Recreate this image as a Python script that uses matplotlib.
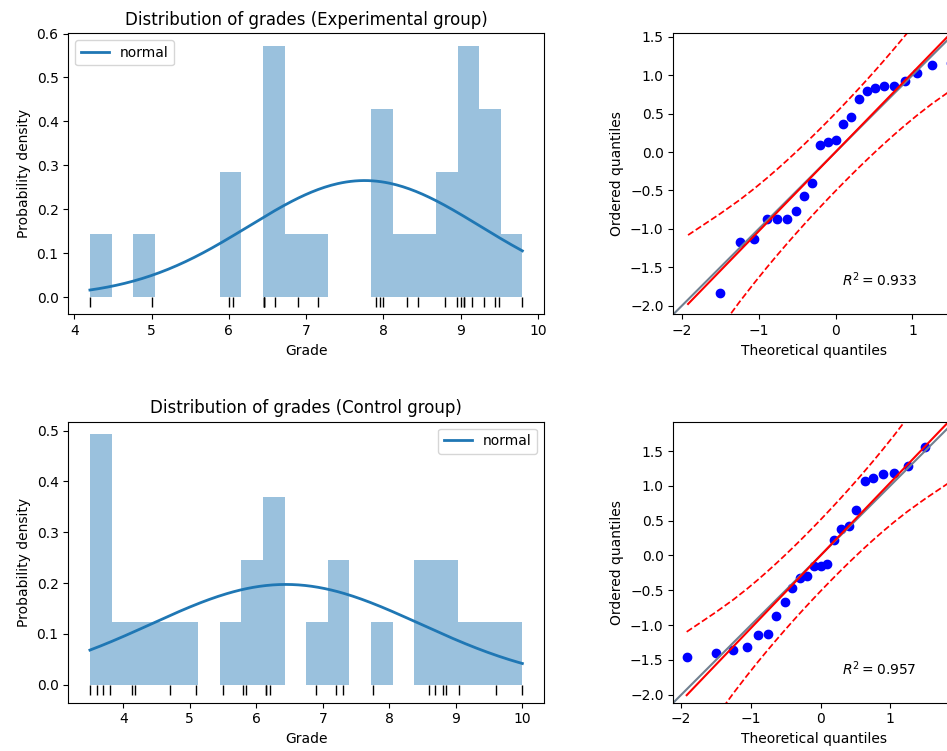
import numpy as np
import matplotlib
matplotlib.use("Agg")
import matplotlib.pyplot as plt
from statistics import NormalDist

exp_grades = [4.2, 5.0, 6.0, 6.05, 6.45, 6.45, 6.45, 6.6, 6.9, 7.15,
              7.9, 7.95, 8.0, 8.3, 8.45, 8.8, 8.95, 9.0, 9.05, 9.05,
              9.15, 9.3, 9.45, 9.5, 9.8]
ctrl_grades = [3.5, 3.6, 3.7, 3.8, 4.13, 4.18, 4.7, 5.1, 5.5, 5.8,
               5.85, 6.15, 6.15, 6.2, 6.9, 7.2, 7.3, 7.75, 8.6, 8.68,
               8.8, 8.85, 9.05, 9.6, 10.0]

W, H = 947, 751


def px_axes(fig, left, top, width, height):
    return fig.add_axes([left / W, (H - top - height) / H, width / W, height / H])


def plot_distribution(ax, grades, title, legend_loc):
    g = np.asarray(grades)
    nd = NormalDist(g.mean(), g.std())
    ax.hist(g, bins=20, density=True, alpha=0.45, color='C0')
    xs = np.linspace(g.min(), g.max(), 200)
    ax.plot(xs, [nd.pdf(v) for v in xs], color='C0', lw=2, label='normal')
    ax.plot(g, np.full(g.size, -0.01), '|k', ms=7)
    ax.set_title(title)
    ax.set_xlabel('Grade')
    ax.set_ylabel('Probability density')
    ax.legend(loc=legend_loc)


def plot_qq(ax, grades):
    g = np.sort(np.asarray(grades))
    n = g.size
    std_norm = NormalDist()
    # Filliben order statistic medians (as scipy.stats.probplot)
    m = (np.arange(1, n + 1) - 0.3175) / (n + 0.365)
    m[-1] = 0.5 ** (1.0 / n)
    m[0] = 1 - m[-1]
    theor = np.array([std_norm.inv_cdf(p) for p in m])
    observed = (g - g.mean()) / g.std()
    slope, intercept = np.polyfit(theor, observed, 1)
    r = np.corrcoef(theor, observed)[0, 1]

    ax.plot(theor, observed, marker='o', ls='none', color='blue')
    ax.set_xlabel('Theoretical quantiles')
    ax.set_ylabel('Ordered quantiles')

    lo = ax.get_xlim()[0]
    hi = ax.get_ylim()[1]
    ax.plot([lo, hi], [lo, hi], color='slategrey', lw=1.5)
    ax.set_xlim(lo, hi)
    ax.set_ylim(lo, hi)

    fit_val = slope * theor + intercept
    ax.plot(theor, fit_val, 'r-')
    ax.text(lo + 0.6 * (hi - lo), lo + 0.1 * (hi - lo), '$R^2=%.3f$' % r ** 2)

    P = (np.arange(1, n + 1) - 0.5) / n
    crit = std_norm.inv_cdf(0.975)
    pdf = np.array([std_norm.pdf(t) for t in theor])
    se = (slope / pdf) * np.sqrt(P * (1 - P) / n)
    ax.plot(theor, fit_val + crit * se, 'r--', lw=1.25)
    ax.plot(theor, fit_val - crit * se, 'r--', lw=1.25)


fig = plt.figure(figsize=(W / 100, H / 100), dpi=100)

ax1 = px_axes(fig, 68.3, 33.3, 475.7, 281)
plot_distribution(ax1, exp_grades, 'Distribution of grades (Experimental group)', 'upper left')

ax2 = px_axes(fig, 673.3, 33.3, 281, 281)
plot_qq(ax2, exp_grades)

ax3 = px_axes(fig, 68.3, 421.7, 475.7, 281)
plot_distribution(ax3, ctrl_grades, 'Distribution of grades (Control group)', 'upper right')

ax4 = px_axes(fig, 673.3, 421.7, 281, 281)
plot_qq(ax4, ctrl_grades)

fig.savefig('out.png', dpi=100)
